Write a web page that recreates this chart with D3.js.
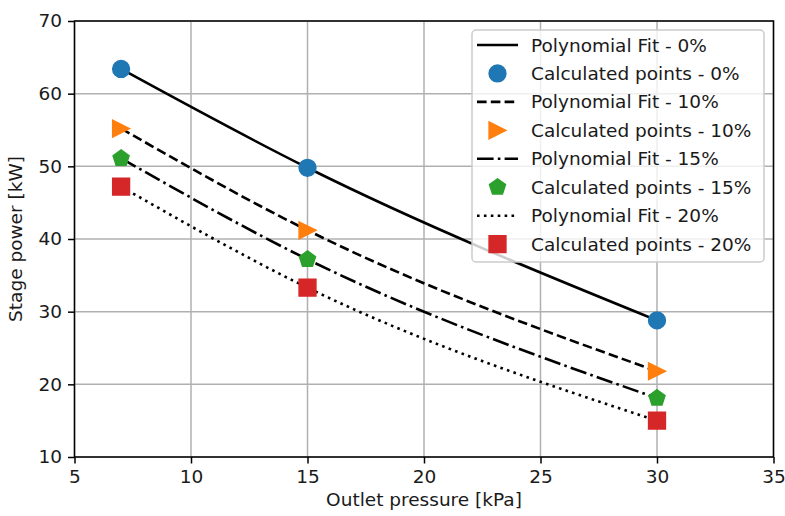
<!DOCTYPE html>
<html>
<head>
<meta charset="utf-8">
<script src="https://cdn.jsdelivr.net/npm/d3@7"></script>
<style>
  html, body { margin: 0; padding: 0; background: #fff; }
  svg { display: block; }
  text { font-family: "DejaVu Sans", sans-serif; fill: #1a1a1a; }
</style>
</head>
<body>
<svg id="chart" width="785" height="516"></svg>
<script>
// ---- data ----
const pressures = [7, 15, 30];
const power0  = [63.4, 49.8, 28.8];
const power10 = [55.2, 41.2, 21.8];
const power15 = [51.1, 37.2, 18.1];
const power20 = [47.2, 33.3, 15.0];
const xTicks = [5, 10, 15, 20, 25, 30, 35];
const yTicks = [10, 20, 30, 40, 50, 60, 70];
const seriesNames = ["0%", "10%", "15%", "20%"];
const xLabel = "Outlet pressure [kPa]";
const yLabel = "Stage power [kW]";

// ---- styles ----
const FS = 18.5;
const MS = 16.8;           // marker size px (plus edge)
const LW = 2.6;
const colors = ["#1f77b4", "#ff7f0e", "#2ca02c", "#d62728"];
const dashes = [null, "9.6,4.2", "16.6,4.2,2.6,4.2", "2.6,4.3"];

// custom marker symbols (size = marker size in px)
const symCircle = { draw(ctx, s) { const r = s / 2; ctx.moveTo(r, 0); ctx.arc(0, 0, r, 0, 2 * Math.PI); } };
const symTriRight = { draw(ctx, s) { const h = s / 2; ctx.moveTo(h, 0); ctx.lineTo(-h, -h); ctx.lineTo(-h, h); ctx.closePath(); } };
const symPentagon = { draw(ctx, s) {
  const r = s / 2;
  for (let k = 0; k < 5; k++) {
    const a = -Math.PI / 2 + k * 2 * Math.PI / 5;
    const x = r * Math.cos(a), y = r * Math.sin(a);
    if (k === 0) ctx.moveTo(x, y); else ctx.lineTo(x, y);
  }
  ctx.closePath();
} };
const symSquare = { draw(ctx, s) { const h = s / 2; ctx.rect(-h, -h, s, s); } };
const symbols = [symCircle, symTriRight, symPentagon, symSquare];

const seriesValues = [power0, power10, power15, power20];

const svg = d3.select("#chart");
const L = 74.5, R = 773.5, T = 21, B = 457;

const x = d3.scaleLinear().domain([5, 35]).range([L, R]);
const y = d3.scaleLinear().domain([10, 70]).range([B, T]);

// grid
const grid = svg.append("g");
grid.selectAll("line.gx").data(xTicks).join("line")
  .attr("x1", d => x(d)).attr("x2", d => x(d)).attr("y1", T).attr("y2", B)
  .attr("stroke", "#b0b0b0").attr("stroke-width", 1.5);
grid.selectAll("line.gy").data(yTicks).join("line")
  .attr("y1", d => y(d)).attr("y2", d => y(d)).attr("x1", L).attr("x2", R)
  .attr("stroke", "#b0b0b0").attr("stroke-width", 1.5);

// axes
const xAxis = d3.axisBottom(x).tickValues(xTicks).tickSize(6.5).tickPadding(6).tickSizeOuter(0);
const yAxis = d3.axisLeft(y).tickValues(yTicks).tickSize(6.5).tickPadding(6).tickSizeOuter(0);
const gx = svg.append("g").attr("transform", `translate(0,${B})`).call(xAxis);
const gy = svg.append("g").attr("transform", `translate(${L},0)`).call(yAxis);
[gx, gy].forEach(g => {
  g.select(".domain").remove();
  g.selectAll(".tick line").attr("stroke", "#000").attr("stroke-width", 1.5);
  g.selectAll(".tick text").attr("font-size", FS).attr("font-family", "DejaVu Sans").attr("fill", "#1a1a1a");
});

// fit lines + points
const line = d3.line().x(d => x(d[0])).y(d => y(d[1])).curve(d3.curveMonotoneX);
seriesValues.forEach((vals, i) => {
  const pts = pressures.map((p, j) => [p, vals[j]]);
  svg.append("path").datum(pts).attr("d", line)
    .attr("fill", "none").attr("stroke", "#000").attr("stroke-width", LW)
    .attr("stroke-dasharray", dashes[i]);
});
seriesValues.forEach((vals, i) => {
  const pts = pressures.map((p, j) => [p, vals[j]]);
  svg.append("g").selectAll("path").data(pts).join("path")
    .attr("transform", d => `translate(${x(d[0])},${y(d[1])})`)
    .attr("d", d3.symbol().type(symbols[i]).size(MS))
    .attr("fill", colors[i]).attr("stroke", colors[i]).attr("stroke-width", 1.5)
    .attr("stroke-linejoin", "miter");
});

// spines
svg.append("rect").attr("x", L).attr("y", T).attr("width", R - L).attr("height", B - T)
  .attr("fill", "none").attr("stroke", "#000").attr("stroke-width", 1.5);

// axis labels
svg.append("text").attr("x", (L + R) / 2).attr("y", 506).attr("text-anchor", "middle")
  .attr("font-size", FS).text(xLabel);
svg.append("text").attr("transform", `translate(22,${(T + B) / 2}) rotate(-90)`)
  .attr("text-anchor", "middle").attr("font-size", FS).text(yLabel);

// legend
const lg = svg.append("g");
lg.append("rect").attr("x", 472).attr("y", 30).attr("width", 292).attr("height", 232)
  .attr("rx", 4).attr("fill", "#fff").attr("fill-opacity", 0.8)
  .attr("stroke", "#cccccc").attr("stroke-width", 1.5);
const rowY0 = 45, rowDy = 28.45;
seriesNames.forEach((name, i) => {
  const yl = rowY0 + (2 * i) * rowDy;
  const ym = rowY0 + (2 * i + 1) * rowDy;
  lg.append("line").attr("x1", 477).attr("x2", 518).attr("y1", yl).attr("y2", yl)
    .attr("stroke", "#000").attr("stroke-width", LW).attr("stroke-dasharray", dashes[i]);
  lg.append("text").attr("x", 531).attr("y", yl + 6.5).attr("font-size", FS)
    .text(`Polynomial Fit - ${name}`);
  lg.append("path").attr("transform", `translate(497.5,${ym})`)
    .attr("d", d3.symbol().type(symbols[i]).size(MS))
    .attr("fill", colors[i]).attr("stroke", colors[i]).attr("stroke-width", 1.5);
  lg.append("text").attr("x", 531).attr("y", ym + 6.5).attr("font-size", FS)
    .text(`Calculated points - ${name}`);
});
</script>
</body>
</html>
